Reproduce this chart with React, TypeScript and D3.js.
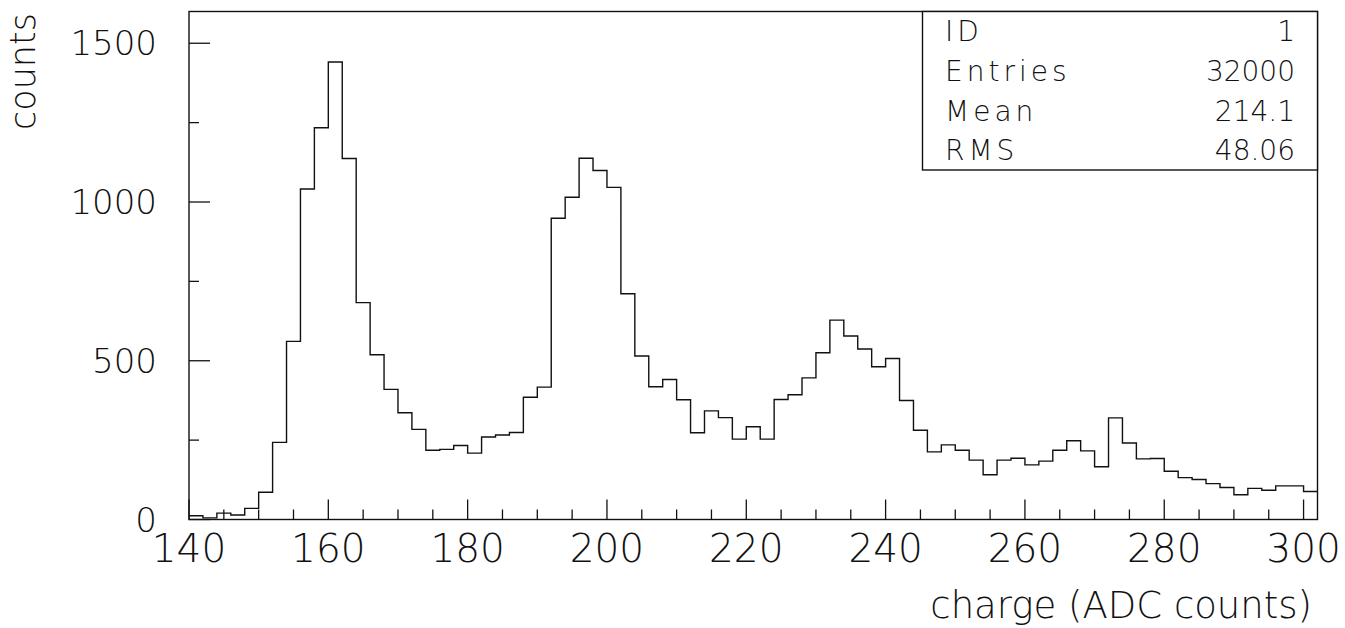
import React from "react";
import * as d3 from "d3";

// Histogram contents: 2-ADC-count bins starting at 140
const binStart = 140;
const binWidth = 2;
const binCounts = [
  12, 5, 20, 14, 35, 86, 243, 561, 1041, 1234,
  1441, 1137, 683, 519, 410, 336, 284, 218, 221, 233,
  209, 260, 266, 274, 385, 417, 949, 1015, 1138, 1099,
  1046, 711, 515, 418, 441, 377, 273, 342, 321, 253,
  292, 253, 378, 393, 446, 525, 628, 578, 537, 481,
  507, 375, 281, 213, 235, 218, 187, 141, 187, 193,
  172, 184, 218, 248, 216, 166, 320, 241, 191, 192,
  152, 132, 126, 113, 101, 78, 98, 92, 106, 106,
  88,
];

const xMajorTicks = [140, 160, 180, 200, 220, 240, 260, 280, 300];
const yMajorTicks = [0, 500, 1000, 1500];
const yMinorTicks = [250, 750, 1250];

const statLabels = ["ID", "Entries", "Mean", "RMS"];
const statValues = ["1", "32000", "214.1", "48.06"];

const xTitle = "charge (ADC counts)";
const yTitle = "counts";

const W = 1345;
const H = 628;
const FONT = "'DejaVu Sans ExtraLight', 'DejaVu Sans', 'Liberation Sans', sans-serif";
const INK = "#111";

export default function App() {
  const xMax = binStart + binWidth * binCounts.length;
  const x = d3.scaleLinear().domain([binStart, xMax]).range([189, 1317.5]);
  const y = d3.scaleLinear().domain([0, 1600]).range([519.5, 11.5]);

  const pts: [number, number][] = binCounts.map((c, i) => [binStart + i * binWidth, c]);
  pts.push([xMax, binCounts[binCounts.length - 1]]);
  const step = d3
    .line<[number, number]>()
    .x((d) => x(d[0]))
    .y((d) => y(d[1]))
    .curve(d3.curveStepAfter)(pts) as string;

  const xMinorTicks = d3.range(145, 300, 5).filter((v) => v % 20 !== 0);

  const [x0, x1] = x.range();
  const [y0, y1] = y.range();

  // statistics box: rows share the box height evenly
  const boxLeft = 922.5;
  const boxBottom = 170;
  const rowH = (boxBottom - y1) / statLabels.length;

  return (
    <svg
      width={W}
      height={H}
      viewBox={`0 0 ${W} ${H}`}
      style={{ position: "absolute", left: 0, top: 0, background: "#fff" }}
      fontFamily={FONT}
      fontWeight={200}
    >
      <rect x={0} y={0} width={W} height={H} fill="#fff" />

      {/* histogram outline */}
      <path d={step} fill="none" stroke={INK} strokeWidth={1.4} />

      {/* frame */}
      <rect x={x0} y={y1} width={x1 - x0} height={y0 - y1} fill="none" stroke={INK} strokeWidth={1.4} />

      {/* x ticks */}
      {xMajorTicks.map((v) => (
        <line key={`xM${v}`} x1={x(v)} x2={x(v)} y1={y0} y2={y0 - 20} stroke={INK} strokeWidth={1.3} />
      ))}
      {xMinorTicks.map((v) => (
        <line key={`xm${v}`} x1={x(v)} x2={x(v)} y1={y0} y2={y0 - 10} stroke={INK} strokeWidth={1.3} />
      ))}
      {/* y ticks */}
      {yMajorTicks.map((v) => (
        <line key={`yM${v}`} x1={x0} x2={x0 + 21} y1={y(v)} y2={y(v)} stroke={INK} strokeWidth={1.3} />
      ))}
      {yMinorTicks.map((v) => (
        <line key={`ym${v}`} x1={x0} x2={x0 + 10} y1={y(v)} y2={y(v)} stroke={INK} strokeWidth={1.3} />
      ))}

      {/* tick labels */}
      {xMajorTicks.map((v) => (
        <text key={`xl${v}`} x={x(v)} y={562} textAnchor="middle" fontSize={39} fill={INK}>
          {v}
        </text>
      ))}
      {yMajorTicks.map((v) => (
        <text key={`yl${v}`} x={157} y={y(v)} dy="0.36em" textAnchor="end" fontSize={34} fill={INK}>
          {v}
        </text>
      ))}

      {/* axis titles */}
      <text x={1312} y={618} textAnchor="end" fontSize={37} fill={INK}>
        {xTitle}
      </text>
      <text transform="translate(35,13) rotate(-90)" textAnchor="end" fontSize={35} fill={INK}>
        {yTitle}
      </text>

      {/* statistics box */}
      <rect x={boxLeft} y={y1} width={x1 - boxLeft} height={boxBottom - y1} fill="#fff" stroke={INK} strokeWidth={1.4} />
      {statLabels.map((s, i) => {
        const base = y1 + rowH * (i + 0.5) + 10;
        return (
          <g key={s}>
            <text x={945} y={base} fontSize={28} letterSpacing={4} fill={INK}>
              {s}
            </text>
            <text x={1295} y={base} textAnchor="end" fontSize={28} fill={INK}>
              {statValues[i]}
            </text>
          </g>
        );
      })}
    </svg>
  );
}
